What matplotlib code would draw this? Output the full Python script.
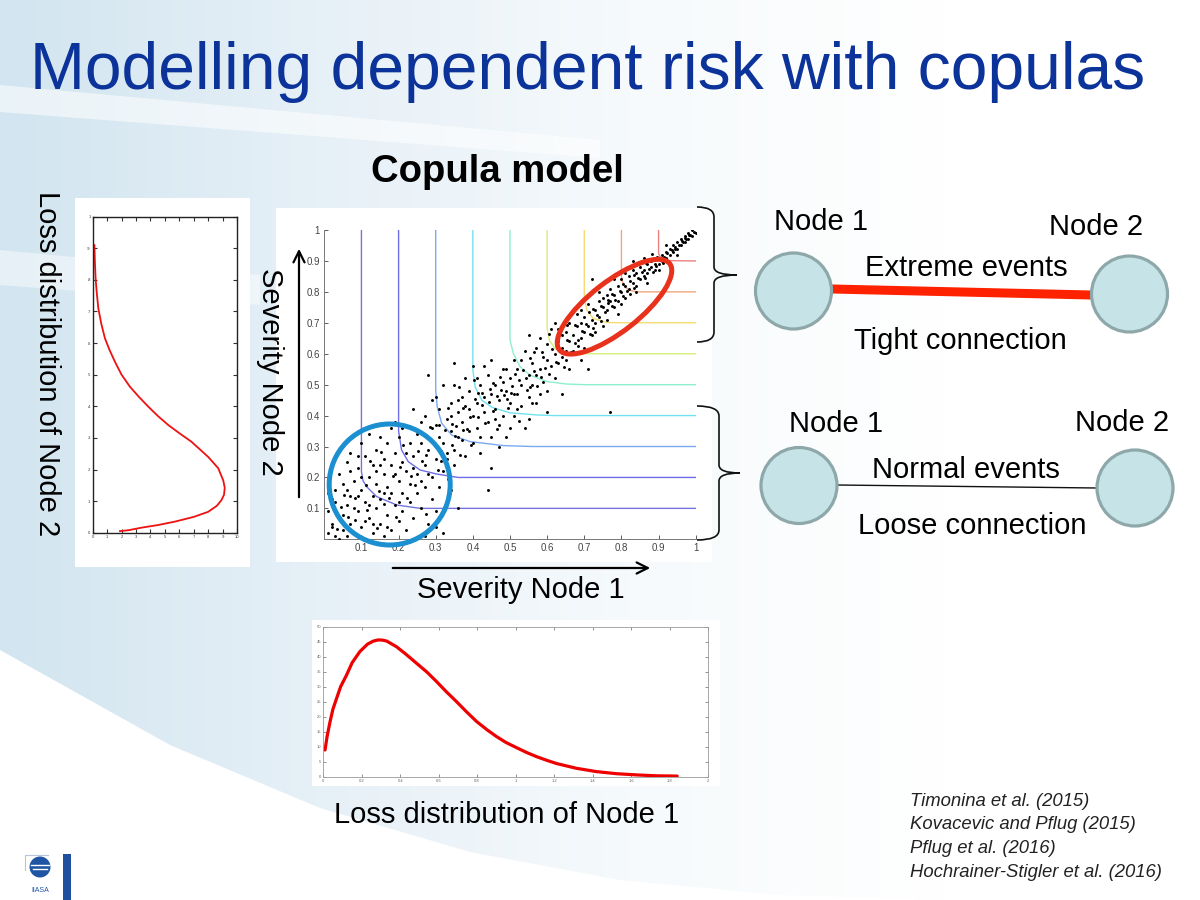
import numpy as np
import matplotlib
matplotlib.use("Agg")
import matplotlib.pyplot as plt
from matplotlib.patches import Circle, Ellipse, Rectangle, Polygon, PathPatch
from matplotlib.path import Path
from matplotlib.colors import LinearSegmentedColormap

plt.rcParams['font.family'] = ['Liberation Sans', 'DejaVu Sans']

# copula sample (Severity Node 1, Severity Node 2)
low_points = [(0.01,0.02),(0.02,0.05),(0.03,0.01),(0.01,0.09),(0.04,0.07),(0.05,0.03),(0.02,0.13),
              (0.06,0.11),(0.07,0.05),(0.08,0.02),(0.03,0.16),(0.05,0.18),(0.07,0.14),(0.09,0.09),
              (0.10,0.04),(0.11,0.12),(0.12,0.07),(0.13,0.02),(0.04,0.21),(0.06,0.25),(0.08,0.19),
              (0.09,0.23),(0.10,0.16),(0.12,0.20),(0.13,0.14),(0.14,0.10),(0.15,0.05),(0.16,0.01),
              (0.07,0.28),(0.11,0.27),(0.13,0.24),(0.14,0.18),(0.15,0.13),(0.16,0.21),(0.17,0.08),
              (0.18,0.15),(0.18,0.03),(0.19,0.11),(0.20,0.19),(0.20,0.06),(0.10,0.31),(0.12,0.34),
              (0.14,0.29),(0.16,0.26),(0.17,0.31),(0.18,0.24),(0.19,0.28),(0.20,0.33),(0.21,0.15),
              (0.21,0.09),(0.22,0.22),(0.22,0.03),(0.23,0.18),(0.23,0.12),(0.24,0.27),(0.24,0.07),
              (0.25,0.21),(0.25,0.15),(0.26,0.31),(0.26,0.10),(0.27,0.24),(0.27,0.17),(0.28,0.05),
              (0.28,0.29),(0.29,0.20),(0.29,0.13),(0.30,0.26),(0.30,0.09),(0.31,0.33),(0.31,0.17),
              (0.32,0.22),(0.32,0.02),(0.33,0.28),(0.33,0.12),(0.18,0.36),(0.19,0.38),(0.15,0.33),
              (0.21,0.36),(0.23,0.31),(0.03,0.12),(0.05,0.08),(0.02,0.04),(0.06,0.01),(0.09,0.14),
              (0.11,0.06),(0.08,0.10),(0.14,0.22),(0.17,0.17),(0.21,0.25),(0.24,0.23),(0.26,0.19),
              (0.12,0.11),(0.16,0.15),(0.19,0.21),(0.10,0.20),(0.07,0.22),(0.36,0.10),(0.34,0.16),
              (0.35,0.24),(0.30,0.04),(0.27,0.01),(0.25,0.34),(0.01,0.15),(0.04,0.00),(0.09,0.27),
              (0.15,0.24),(0.22,0.28),(0.28,0.21),(0.13,0.05),(0.06,0.16),(0.20,0.12),(0.17,0.04),
              (0.053,0.143),(0.083,0.062),(0.115,0.094),(0.143,0.035),(0.162,0.114),(0.194,0.073),
              (0.224,0.134),(0.243,0.176),(0.262,0.254),(0.274,0.083),(0.173,0.133),(0.146,0.156),
              (0.113,0.174),(0.084,0.133),(0.063,0.072),(0.044,0.103),(0.034,0.034),(0.123,0.254),
              (0.153,0.283),(0.184,0.204),(0.213,0.304),(0.253,0.284),(0.234,0.204),(0.204,0.234)]

mid_points = [(0.27,0.40),(0.28,0.53),(0.29,0.45),(0.30,0.37),(0.31,0.42),(0.32,0.31),(0.33,0.39),
              (0.34,0.44),(0.34,0.35),(0.35,0.29),(0.35,0.50),(0.36,0.41),(0.36,0.33),(0.37,0.46),
              (0.37,0.38),(0.38,0.27),(0.38,0.43),(0.39,0.35),(0.39,0.48),(0.40,0.40),(0.40,0.31),
              (0.40,0.56),(0.41,0.44),(0.41,0.36),(0.42,0.50),(0.42,0.28),(0.43,0.41),(0.43,0.46),
              (0.44,0.38),(0.44,0.53),(0.45,0.33),(0.45,0.47),(0.45,0.23),(0.46,0.42),(0.46,0.50),
              (0.47,0.45),(0.47,0.37),(0.48,0.55),(0.48,0.40),(0.49,0.48),(0.49,0.33),(0.50,0.44),
              (0.50,0.52),(0.51,0.58),(0.51,0.40),(0.52,0.47),(0.52,0.55),(0.53,0.50),(0.53,0.43),
              (0.54,0.61),(0.54,0.36),(0.55,0.53),(0.55,0.46),(0.56,0.57),(0.56,0.50),(0.57,0.62),
              (0.57,0.44),(0.58,0.55),(0.58,0.65),(0.59,0.51),(0.59,0.59),(0.60,0.48),(0.60,0.63),
              (0.61,0.56),(0.61,0.68),(0.62,0.60),(0.62,0.52),(0.63,0.64),(0.63,0.57),(0.64,0.47),
              (0.64,0.66),(0.65,0.61),(0.66,0.55),(0.60,0.41),(0.55,0.39),(0.50,0.36),(0.45,0.58),
              (0.43,0.56),(0.38,0.52),(0.32,0.50),(0.30,0.46),(0.35,0.57),(0.29,0.36),(0.26,0.38),
              (0.24,0.42),(0.28,0.33),(0.37,0.32),(0.33,0.26),(0.42,0.33),(0.47,0.30),(0.52,0.42),
              (0.58,0.47),(0.62,0.70),(0.55,0.66),(0.53,0.58),(0.49,0.55),(0.77,0.41),(0.71,0.55),
              (0.69,0.74),(0.44,0.16),(0.36,0.45),(0.41,0.52),(0.46,0.39),(0.51,0.47),(0.56,0.44),
              (0.48,0.51),(0.39,0.42),(0.34,0.40),(0.31,0.37),(0.57,0.53),(0.60,0.58),(0.65,0.58),
              (0.294,0.313),(0.305,0.224),(0.314,0.285),(0.325,0.353),(0.334,0.194),(0.345,0.305),
              (0.354,0.366),(0.365,0.273),(0.374,0.424),(0.385,0.356),(0.394,0.304),(0.405,0.455),
              (0.414,0.396),(0.425,0.434),(0.434,0.376),(0.445,0.485),(0.454,0.414),(0.465,0.356),
              (0.474,0.525),(0.485,0.466),(0.494,0.424),(0.505,0.495),(0.514,0.536),(0.525,0.384),
              (0.534,0.546),(0.545,0.484),(0.554,0.586),(0.565,0.544),(0.574,0.495),(0.585,0.606),
              (0.594,0.554),(0.605,0.535),(0.614,0.616),(0.625,0.574),(0.634,0.615),(0.645,0.556),
              (0.424,0.474),(0.464,0.463),(0.503,0.474),(0.544,0.523),(0.583,0.524),(0.393,0.394),
              (0.353,0.334),(0.315,0.254),(0.274,0.274),(0.284,0.364),(0.334,0.424),(0.364,0.494),
              (0.404,0.514),(0.443,0.445),(0.476,0.484),(0.524,0.515),(0.564,0.604),(0.604,0.664),
              (0.553,0.493),(0.493,0.454),(0.453,0.504),(0.413,0.473),(0.373,0.354),(0.343,0.374)]

high_points = [(0.64,0.62),(0.65,0.67),(0.66,0.64),(0.66,0.70),(0.67,0.61),(0.67,0.66),(0.68,0.69),
               (0.68,0.73),(0.69,0.65),(0.69,0.70),(0.70,0.67),(0.70,0.72),(0.71,0.69),(0.71,0.76),
               (0.72,0.71),(0.72,0.66),(0.73,0.74),(0.73,0.70),(0.74,0.77),(0.74,0.72),(0.75,0.75),
               (0.75,0.69),(0.76,0.79),(0.76,0.74),(0.77,0.77),(0.77,0.81),(0.78,0.75),(0.78,0.79),
               (0.79,0.82),(0.79,0.77),(0.80,0.80),(0.80,0.84),(0.81,0.78),(0.81,0.82),(0.82,0.85),
               (0.82,0.81),(0.83,0.83),(0.83,0.87),(0.84,0.82),(0.84,0.86),(0.85,0.88),(0.85,0.84),
               (0.86,0.87),(0.86,0.85),(0.87,0.89),(0.87,0.86),(0.88,0.88),(0.88,0.90),(0.89,0.87),
               (0.89,0.89),(0.90,0.91),(0.90,0.89),(0.91,0.90),(0.91,0.92),(0.92,0.91),(0.92,0.93),
               (0.93,0.92),(0.93,0.94),(0.94,0.93),(0.94,0.95),(0.95,0.94),(0.95,0.96),(0.96,0.95),
               (0.96,0.97),(0.97,0.96),(0.97,0.98),(0.98,0.97),(0.98,0.99),(0.99,0.98),(0.99,1.00),
               (1.00,0.99),(0.72,0.84),(0.70,0.62),(0.76,0.71),(0.80,0.76),(0.84,0.80),(0.78,0.84),
               (0.74,0.80),(0.86,0.91),(0.90,0.87),(0.93,0.89),(0.92,0.95),(0.95,0.92),(0.69,0.58),
               (0.66,0.72),(0.64,0.59),(0.63,0.68),(0.83,0.90),(0.87,0.83),(0.81,0.86),(0.79,0.73),
               (0.75,0.78),(0.73,0.67),(0.955,0.95),(0.965,0.96),(0.975,0.97),(0.985,0.985),(0.945,0.94),
               (0.654,0.644),(0.664,0.604),(0.675,0.634),(0.684,0.624),(0.695,0.674),(0.704,0.695),
               (0.715,0.664),(0.724,0.745),(0.735,0.724),(0.744,0.705),(0.755,0.734),(0.764,0.775),
               (0.775,0.754),(0.784,0.773),(0.795,0.804),(0.804,0.785),(0.815,0.804),(0.824,0.835),
               (0.835,0.814),(0.844,0.845),(0.855,0.864),(0.864,0.845),(0.875,0.874),(0.884,0.865),
               (0.895,0.914),(0.904,0.905),(0.915,0.914),(0.924,0.925),(0.935,0.934),(0.944,0.945),
               (0.962,0.964),(0.972,0.974),(0.982,0.983),(0.995,0.995),(0.634,0.664),(0.674,0.694),
               (0.714,0.734),(0.745,0.754),(0.774,0.794),(0.805,0.825),(0.834,0.854),(0.865,0.894),
               (0.893,0.884),(0.913,0.894),(0.683,0.644),(0.653,0.693),(0.724,0.684),(0.763,0.764),
               (0.823,0.794),(0.883,0.924)]

# copula level curves (x vertices, y vertices per level)
contour_levels = [0.1, 0.2, 0.3, 0.4, 0.5, 0.6, 0.7, 0.8, 0.9]
contour_x = [[0.1, 0.1, 0.104, 0.114, 0.141, 0.195, 0.258, 1.0],
             [0.2, 0.2, 0.208, 0.226, 0.258, 0.303, 0.36, 1.0],
             [0.3, 0.3, 0.304, 0.316, 0.343, 0.392, 0.482, 0.56, 1.0],
             [0.4, 0.4, 0.406, 0.424, 0.451, 0.5, 0.572, 0.62, 1.0],
             [0.5, 0.5, 0.509, 0.527, 0.554, 0.599, 0.653, 0.7, 1.0],
             [0.6, 0.6, 0.606, 0.621, 0.653, 0.7, 1.0],
             [0.7, 0.7, 0.707, 0.724, 0.76, 0.8, 1.0],
             [0.8, 0.8, 0.805, 0.819, 0.841, 1.0],
             [0.9, 0.9, 0.906, 0.922, 1.0]]
contour_y = [[1.0, 0.22, 0.19, 0.17, 0.138, 0.111, 0.1, 0.1],
             [1.0, 0.35, 0.289, 0.251, 0.224, 0.211, 0.2, 0.2],
             [1.0, 0.483, 0.429, 0.375, 0.337, 0.316, 0.303, 0.3, 0.3],
             [1.0, 0.548, 0.493, 0.45, 0.427, 0.409, 0.402, 0.4, 0.4],
             [1.0, 0.644, 0.601, 0.558, 0.531, 0.51, 0.502, 0.5, 0.5],
             [1.0, 0.682, 0.644, 0.617, 0.603, 0.6, 0.6],
             [1.0, 0.779, 0.741, 0.714, 0.701, 0.7, 0.7],
             [1.0, 0.849, 0.822, 0.806, 0.8, 0.8],
             [1.0, 0.925, 0.909, 0.901, 0.9]]
contour_colors = ['#7574de', '#6d6de8', '#7aa8f2', '#70e2f0', '#8eefcb',
                  '#d4ef7c', '#f4dc70', '#f1a67e', '#ee8082']

# loss distribution of node 1 (bottom panel)
loss1 = [0.009, 0.02, 0.035, 0.05, 0.069, 0.09, 0.121, 0.15, 0.19, 0.23, 0.26, 0.286, 0.31, 0.33,
         0.381, 0.43, 0.485, 0.54, 0.589, 0.64, 0.693, 0.745, 0.797, 0.85, 0.9, 0.95, 1.004, 1.056,
         1.108, 1.16, 1.212, 1.316, 1.42, 1.524, 1.628, 1.73, 1.84]
pdf1 = [8.9, 13.5, 18.3, 22.5, 26.1, 30.0, 33.9, 38.0, 41.7, 44.2, 45.2, 45.6, 45.5, 45.2,
        43.3, 40.8, 37.8, 34.8, 31.7, 28.3, 25.0, 21.6, 18.4, 15.7, 13.4, 11.4, 9.7, 8.1,
        6.7, 5.5, 4.4, 2.8, 1.7, 1.0, 0.6, 0.3, 0.2]

# loss distribution of node 2 (left panel, rotated)
loss2 = [0.005, 0.008, 0.016, 0.024, 0.035, 0.05, 0.066, 0.085, 0.103, 0.12, 0.142, 0.165,
         0.204, 0.24, 0.288, 0.315, 0.341, 0.37, 0.399, 0.43, 0.462, 0.5, 0.541, 0.58, 0.615,
         0.66, 0.71, 0.76, 0.805, 0.86, 0.91]
pdf2 = [1.89, 2.5, 3.39, 4.5, 5.69, 7.0, 8.0, 8.6, 8.92, 9.1, 9.15, 9.05,
        8.7, 8.0, 6.84, 6.0, 5.23, 4.5, 3.85, 3.2, 2.58, 2.0, 1.54, 1.15, 0.85,
        0.6, 0.39, 0.28, 0.2, 0.15, 0.12]

references = ["Timonina et al. (2015)", "Kovacevic and Pflug (2015)",
              "Pflug et al. (2016)", "Hochrainer-Stigler et al. (2016)"]

W, H = 1200, 900
fig = plt.figure(figsize=(12, 9), dpi=100)


def px_axes(x0, y0, x1, y1, z):
    a = fig.add_axes([x0 / W, 1 - y1 / H, (x1 - x0) / W, (y1 - y0) / H])
    a.set_zorder(z)
    return a


# ---- background (slide template swooshes) ----
bg = px_axes(0, 0, W, H, 0)
bg.set_xlim(0, W)
bg.set_ylim(H, 0)
bg.axis('off')
cmap = LinearSegmentedColormap.from_list('bgfade', ['#d2e5f0', '#e6f0f7', '#f6fafc', '#ffffff'])
grad = np.linspace(0, 1, 300).reshape(1, -1)
img = bg.imshow(grad, extent=(0, 950, H, 0), cmap=cmap, aspect='auto', zorder=1)
band = Polygon([(0, 0), (950, 0), (950, 900), (780, 895), (620, 880), (470, 852),
                (320, 808), (170, 745), (0, 650)], closed=True, transform=bg.transData)
img.set_clip_path(band)
for pts, al in [([(0, 85), (0, 112), (600, 158), (600, 140)], 0.55),
                ([(0, 250), (0, 285), (260, 305), (260, 275)], 0.45)]:
    bg.add_patch(Polygon(pts, closed=True, facecolor='white', edgecolor='none', alpha=al, zorder=2))

# white panels behind the charts
for x0, y0, x1, y1 in [(75, 198, 250, 567), (276, 208, 712, 562), (312, 620, 720, 786)]:
    bg.add_patch(Rectangle((x0, y0), x1 - x0, y1 - y0, facecolor='white', edgecolor='none', zorder=3))

# ---- copula scatter ----
ax = px_axes(324.3, 230, 695.7, 539.3, 2)
ax.patch.set_alpha(0)
for xs, ys, col in zip(contour_x, contour_y, contour_colors):
    ax.plot(xs, ys, color=col, lw=1.0, zorder=2)
for grp in [low_points, mid_points, high_points]:
    arr = np.array(grp)
    ax.scatter(arr[:, 0], arr[:, 1], s=4.5, c='black', linewidths=0, zorder=3)
ax.set_xlim(0, 1)
ax.set_ylim(0, 1)
ticks = [0.1, 0.2, 0.3, 0.4, 0.5, 0.6, 0.7, 0.8, 0.9, 1.0]
tick_labels = ['0.1', '0.2', '0.3', '0.4', '0.5', '0.6', '0.7', '0.8', '0.9', '1']
ax.set_xticks(ticks)
ax.set_xticklabels(tick_labels)
ax.set_yticks(ticks)
ax.set_yticklabels(tick_labels)
ax.tick_params(direction='in', length=3, width=0.6, labelsize=7, colors='#444444', pad=3)
for s in ['top', 'right']:
    ax.spines[s].set_visible(False)
for s in ['left', 'bottom']:
    ax.spines[s].set_color('#777777')
    ax.spines[s].set_linewidth(0.7)

# ---- loss distribution of node 2 (left) ----
axl = px_axes(92.7, 216.7, 237, 532.7, 2)
axl.patch.set_alpha(0)
axl.plot(pdf2, loss2, color='#ee1111', lw=1.3)
axl.set_xlim(0, 10)
axl.set_ylim(0, 1)
axl.set_xticks(range(0, 11))
axl.set_yticks(np.arange(0, 1.01, 0.1))
axl.set_xticklabels([str(v) for v in range(0, 11)])
axl.set_yticklabels(['0', '.1', '.2', '.3', '.4', '.5', '.6', '.7', '.8', '.9', '1'])
axl.tick_params(direction='in', length=3, width=0.8, labelsize=3, colors='#333333', pad=1.5,
                top=True, right=True)
for s in axl.spines.values():
    s.set_linewidth(1.0)
    s.set_color('#222222')

# ---- loss distribution of node 1 (bottom) ----
axb = px_axes(323.3, 626.7, 708, 776.7, 2)
axb.patch.set_alpha(0)
axb.plot(loss1, pdf1, color='#ee0000', lw=2.3, solid_capstyle='round', solid_joinstyle='round')
axb.set_xlim(0, 2)
axb.set_ylim(0, 50)
axb.set_xticks(np.arange(0, 2.01, 0.2))
axb.set_xticklabels(['0', '0.2', '0.4', '0.6', '0.8', '1', '1.2', '1.4', '1.6', '1.8', '2'])
axb.set_yticks(range(0, 51, 5))
axb.tick_params(direction='in', length=2, width=0.5, labelsize=3, colors='#666666', pad=1.5,
                top=True, right=True)
for s in axb.spines.values():
    s.set_linewidth(0.6)
    s.set_color('#999999')

# ---- overlay: text, arrows, highlights, network sketch ----
ov = px_axes(0, 0, W, H, 5)
ov.set_xlim(0, W)
ov.set_ylim(H, 0)
ov.axis('off')
ov.patch.set_alpha(0)

ov.text(30, 89, "Modelling dependent risk with copulas", fontsize=47.5, color='#0b3399',
        ha='left', va='baseline')
ov.text(497, 182, "Copula model", fontsize=27.5, fontweight='bold', ha='center', va='baseline')
ov.text(521, 590, "Severity Node 1", fontsize=21, ha='center', va='center')
ov.text(270, 372, "Severity Node 2", fontsize=21, ha='center', va='center', rotation=-90)
ov.text(47, 364, "Loss distribution of Node 2", fontsize=21, ha='center', va='center', rotation=-90)
ov.text(507, 815, "Loss distribution of Node 1", fontsize=21, ha='center', va='center')

# axis arrows
ov.annotate('', xy=(299, 246), xytext=(299, 500),
            arrowprops=dict(arrowstyle='->', lw=1.6, color='black', mutation_scale=20))
ov.annotate('', xy=(653, 568), xytext=(390, 568),
            arrowprops=dict(arrowstyle='->', lw=1.6, color='black', mutation_scale=20))

# highlight circles on the scatter
ov.add_patch(Circle((389.7, 484.5), 60.5, fill=False, edgecolor='#1b8fcf', lw=3.6))
ov.add_patch(Ellipse((614.5, 306.7), 140, 50, angle=-38, fill=False, edgecolor='#e8321c', lw=3.6))


def brace(x0, yt, yb, xr, xtip, ym):
    verts = [(x0, yt), (xr, yt), (xr, yt + 10), (xr, ym - 8), (xr, ym), (xtip, ym),
             (xr, ym), (xr, ym + 8), (xr, yb - 10), (xr, yb), (x0, yb)]
    codes = [Path.MOVETO, Path.CURVE3, Path.CURVE3, Path.LINETO, Path.CURVE3, Path.CURVE3,
             Path.CURVE3, Path.CURVE3, Path.LINETO, Path.CURVE3, Path.CURVE3]
    ov.add_patch(PathPatch(Path(verts, codes), fill=False, edgecolor='#111111', lw=1.2))


brace(697, 207, 342, 714, 737, 275)
brace(697, 406, 540, 719, 740, 473)

# network sketch
node_face, node_edge = '#c6e4e7', '#8ea8aa'
ov.plot([832, 1091], [289, 295], color='#ff2200', lw=6.5, solid_capstyle='butt', zorder=2)
ov.plot([837, 1097], [485, 488], color='#111111', lw=1.0, zorder=2)
for cx, cy in [(793.5, 291), (1129.5, 294), (799, 485.5), (1135, 488)]:
    ov.add_patch(Circle((cx, cy), 38, facecolor=node_face, edgecolor=node_edge, lw=2.3, zorder=3))
ov.text(821, 222, "Node 1", fontsize=21, ha='center', va='center')
ov.text(1096, 227, "Node 2", fontsize=21, ha='center', va='center')
ov.text(966, 268, "Extreme events", fontsize=21, ha='center', va='center')
ov.text(960, 341, "Tight connection", fontsize=21, ha='center', va='center')
ov.text(836, 424, "Node 1", fontsize=21, ha='center', va='center')
ov.text(1122, 423, "Node 2", fontsize=21, ha='center', va='center')
ov.text(966, 470, "Normal events", fontsize=21, ha='center', va='center')
ov.text(972, 526, "Loose connection", fontsize=21, ha='center', va='center')

# references
for i, ref in enumerate(references):
    ov.text(910, 801 + i * 23.7, ref, fontsize=13.3, style='italic', color='#222222',
            ha='left', va='center')

# IIASA logo
ov.plot([25, 25, 48], [870, 855, 855], color='#b8c4d8', lw=0.8)
ov.add_patch(Circle((40, 867), 10.5, facecolor='#1f55a3', edgecolor='none'))
ov.plot([31, 49], [865, 865], color='white', lw=1.0)
ov.plot([33, 47], [869, 869], color='white', lw=1.0)
ov.text(40, 890, "IIASA", fontsize=5, color='#1f55a3', ha='center', va='center')
ov.add_patch(Rectangle((63.3, 854), 7.4, 46, facecolor='#1f4f9e', edgecolor='none'))

fig.savefig("out.png", dpi=100)
